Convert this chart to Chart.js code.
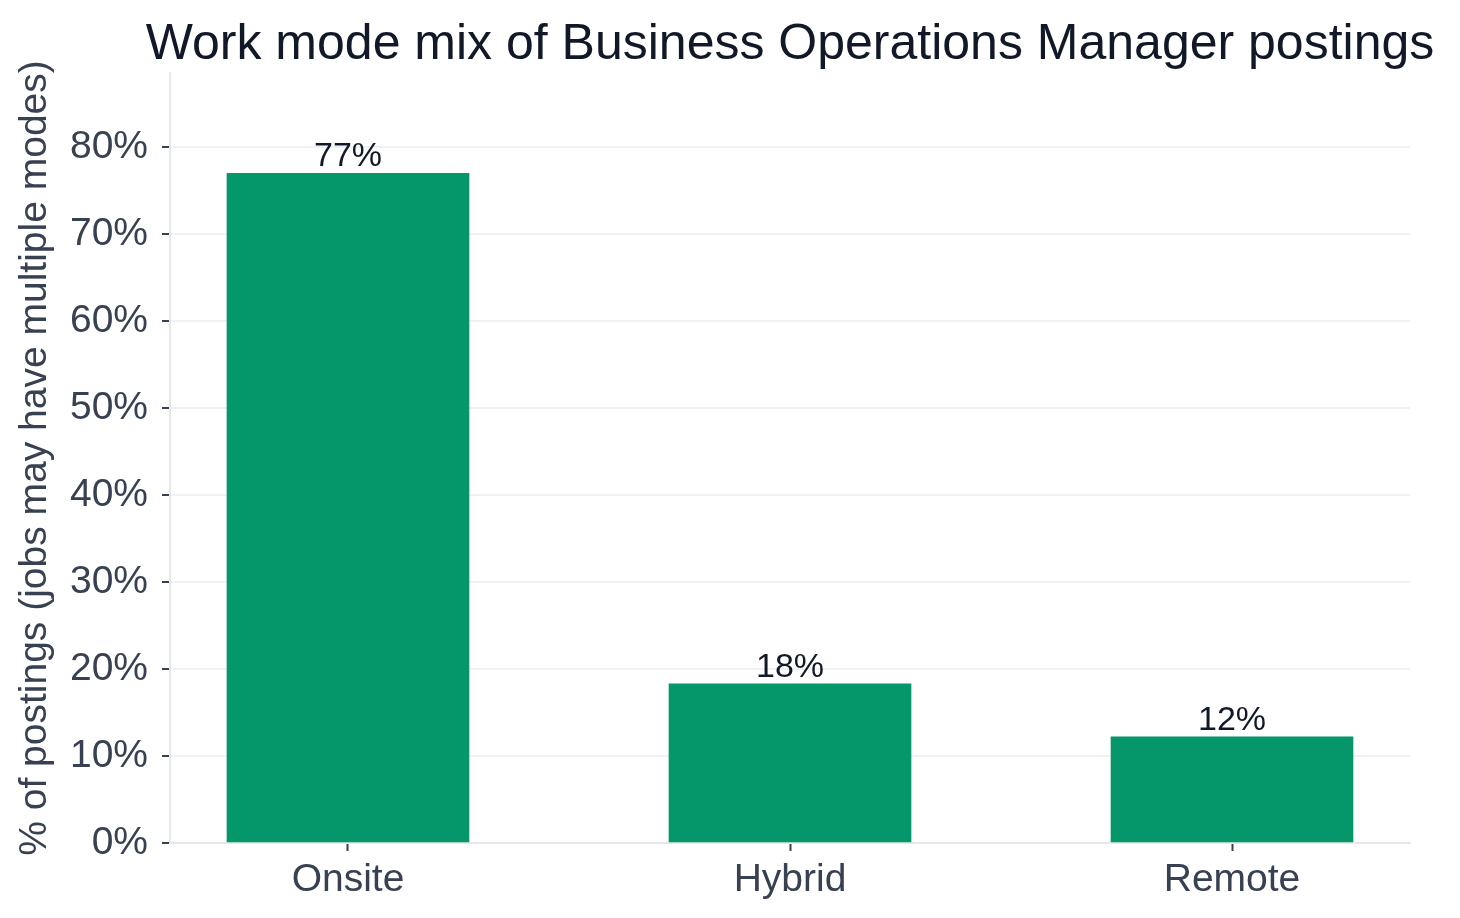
<!DOCTYPE html>
<html>
<head>
<meta charset="utf-8">
<script src="https://cdn.jsdelivr.net/npm/chart.js@4.4.1/dist/chart.umd.min.js"></script>
<style>
  html, body { margin: 0; padding: 0; background: #ffffff; }
  #wrap { width: 1460px; height: 918px; }
</style>
</head>
<body>
<div id="wrap"><canvas id="modeChart"></canvas></div>
<script>
// work mode shares, % of postings
const categories = ['Onsite', 'Hybrid', 'Remote'];
const shares = [77.0, 18.3, 12.2];
const yTickValues = [0, 10, 20, 30, 40, 50, 60, 70, 80];

const FONT = '"Liberation Sans", Arial, Helvetica, sans-serif';

// value labels above each bar
const barLabels = {
    id: 'barLabels',
    afterDatasetsDraw(chart) {
        const ctx = chart.ctx;
        const meta = chart.getDatasetMeta(0);
        ctx.save();
        ctx.font = '34px ' + FONT;
        ctx.fillStyle = '#111827';
        ctx.textAlign = 'center';
        ctx.textBaseline = 'alphabetic';
        meta.data.forEach((bar, i) => {
            ctx.fillText(Math.round(shares[i]) + '%', bar.x, bar.y - 7);
        });
        ctx.restore();
    }
};

// title centred over the plot area, but wide enough not to be squeezed
const wideTitle = {
    id: 'wideTitle',
    afterLayout(chart) {
        const t = chart.titleBlock;
        if (!t) return;
        const cx = (chart.chartArea.left + chart.chartArea.right) / 2;
        t.left = cx - 700;
        t.right = cx + 700;
        t.width = 1400;
    }
};

const ctx = document.getElementById('modeChart').getContext('2d');
const chart = new Chart(ctx, {
    type: 'bar',
    data: {
        datasets: [{
            data: categories.map((c, i) => ({ x: i, y: shares[i] })),
            backgroundColor: '#059669',
            borderWidth: 0,
            barThickness: 242
        }]
    },
    options: {
        responsive: true,
        maintainAspectRatio: false,
        devicePixelRatio: 1,
        animation: false,
        layout: { padding: { left: 0, right: 50, top: 0, bottom: 0 } },
        plugins: {
            legend: { display: false },
            tooltip: { enabled: false },
            title: {
                display: true,
                fullSize: false,
                text: 'Work mode mix of Business Operations Manager postings',
                color: '#111827',
                font: { family: FONT, size: 50, weight: 'normal', lineHeight: 1.0 },
                padding: { top: 20, bottom: 3 }
            }
        },
        scales: {
            x: {
                type: 'linear',
                offset: false,
                min: -0.4027,
                max: 2.4027,
                afterBuildTicks: (scale) => {
                    scale.ticks = categories.map((c, i) => ({ value: i }));
                },
                afterFit: (scale) => { scale.height = 75; },
                ticks: {
                    color: '#374151',
                    font: { family: FONT, size: 39 },
                    padding: 6,
                    maxRotation: 0,
                    autoSkip: false,
                    callback: (v) => categories[v]
                },
                grid: {
                    offset: false,
                    drawOnChartArea: false,
                    drawTicks: true,
                    tickLength: 8,
                    tickColor: '#374151',
                    tickWidth: 2
                },
                border: { display: true, color: '#e5e7eb', width: 2 }
            },
            y: {
                min: 0,
                max: 88.55,
                afterBuildTicks: (scale) => {
                    scale.ticks = yTickValues.map(v => ({ value: v }));
                },
                afterFit: (scale) => { scale.width = 170; },
                ticks: {
                    color: '#374151',
                    font: { family: FONT, size: 39 },
                    padding: 14,
                    callback: (v) => v + '%'
                },
                grid: {
                    color: '#eff1f4',
                    lineWidth: 2,
                    drawTicks: true,
                    tickLength: 8,
                    tickColor: '#374151',
                    tickWidth: 2
                },
                border: { display: true, color: '#e5e7eb', width: 2 },
                title: {
                    display: true,
                    text: '% of postings (jobs may have multiple modes)',
                    color: '#374151',
                    font: { family: FONT, size: 39 },
                    padding: { top: 12, bottom: 0 }
                }
            }
        }
    },
    plugins: [barLabels, wideTitle]
});
</script>
</body>
</html>
